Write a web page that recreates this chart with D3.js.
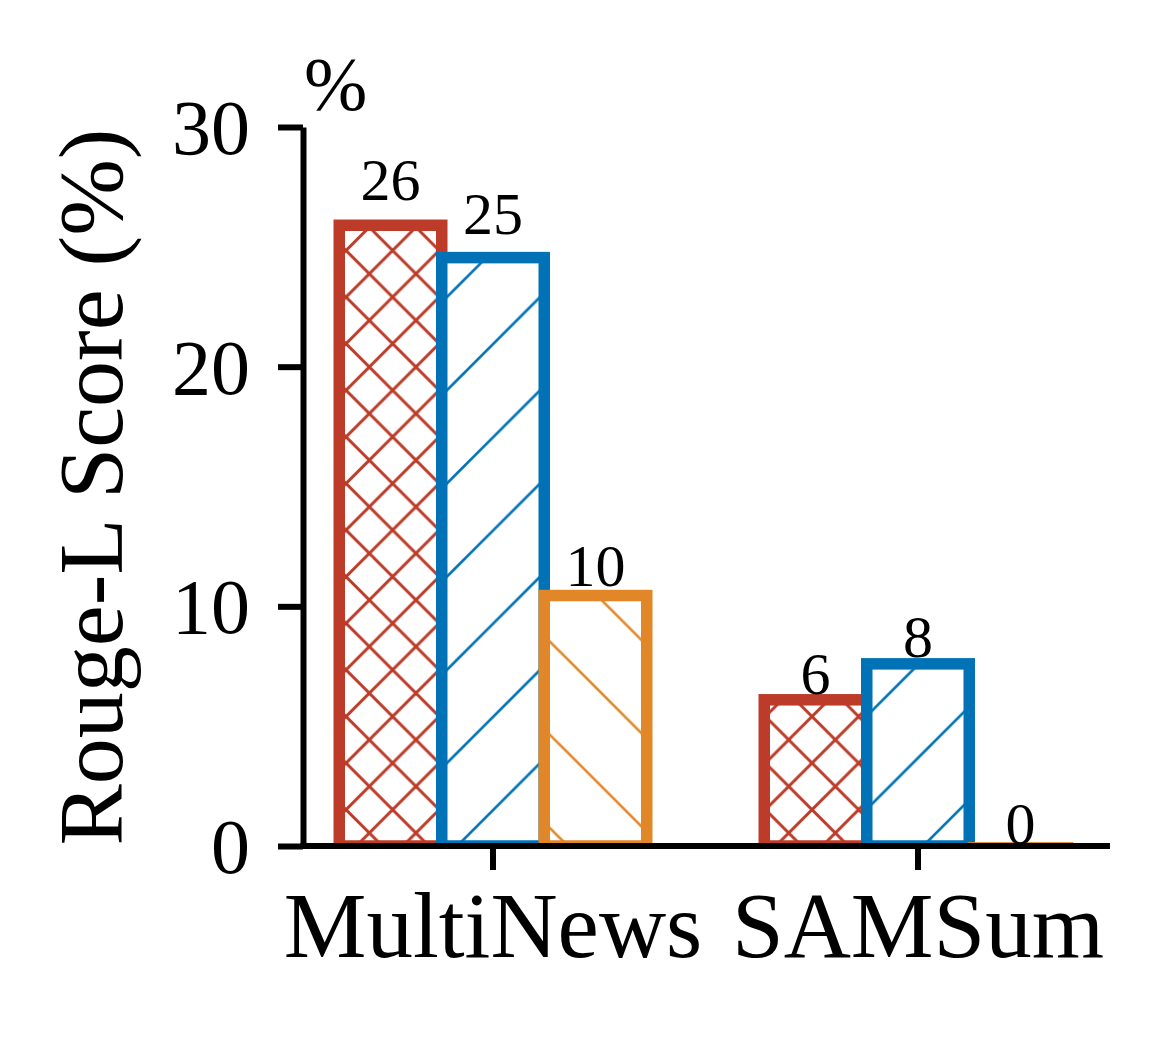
<!DOCTYPE html>
<html>
<head>
<meta charset="utf-8">
<script src="https://cdn.jsdelivr.net/npm/d3@7"></script>
<style>
  html, body { margin: 0; padding: 0; background: #fff; }
  svg { display: block; }
  text { font-family: "Liberation Serif", "Times New Roman", serif; fill: #000; }
</style>
</head>
<body>
<div id="chart"></div>
<script>
// ---- data ----
const groups = ["MultiNews", "SAMSum"];
const series = ["s1", "s2", "s3"];
const redValues = [25.9, 6.1];
const blueValues = [24.55, 7.6];
const orangeValues = [10.45, 0.1];
const valueLabels = [["26", "6"], ["25", "8"], ["10", "0"]];
const yTicks = [0, 10, 20, 30];
const yLabel = "Rouge-L Score (%)";
const unitLabel = "%";

const seriesValues = [redValues, blueValues, orangeValues];
const colors = ["#BC3C29", "#0072B5", "#E18727"];

const W = 1166, H = 1041;
const svg = d3.select("#chart").append("svg").attr("width", W).attr("height", H);

// scales
const y = d3.scaleLinear().domain([0, 30]).range([846, 127]);
const x = d3.scaleBand().domain(groups).range([280.5, 1130.5])
  .paddingInner(0.2765).paddingOuter(0.2765 / 2);
const xs = d3.scaleBand().domain(series).range([0, x.bandwidth()]);

// hatch patterns (userSpace, phase matched)
const defs = svg.append("defs");
defs.append("clipPath").attr("id", "plotClip")
  .append("rect").attr("x", 0).attr("y", 0).attr("width", W).attr("height", y(0));

function hatchPath(P, slashOff, backOff) {
  let d = "";
  if (slashOff !== null) {
    for (let k = -2; k <= 3; k++) {
      const c = slashOff + k * P;
      d += `M${c + P},${-P}L${c - 2 * P},${2 * P}`;
    }
  }
  if (backOff !== null) {
    for (let k = -2; k <= 3; k++) {
      const c = backOff + k * P;
      d += `M${c - P},${-P}L${c + 2 * P},${2 * P}`;
    }
  }
  return d;
}
const hatchDefs = [
  { id: "h0", P: 46.6, s: 37.3, b: 2.3, w: 3 },
  { id: "h1", P: 93.2, s: 91.5, b: null, w: 2.6 },
  { id: "h2", P: 93.2, s: null, b: 1.5, w: 2.6 }
];
hatchDefs.forEach((h, i) => {
  const p = defs.append("pattern").attr("id", h.id)
    .attr("patternUnits", "userSpaceOnUse")
    .attr("x", 0).attr("y", 0).attr("width", h.P).attr("height", h.P);
  p.append("rect").attr("width", h.P).attr("height", h.P).attr("fill", "#fff");
  p.append("path").attr("d", hatchPath(h.P, h.s, h.b))
    .attr("stroke", colors[i]).attr("stroke-width", h.w).attr("fill", "none");
});

// bars
const barData = [];
series.forEach((s, si) => {
  groups.forEach((g, gi) => {
    barData.push({ s, si, g, gi, v: seriesValues[si][gi], label: valueLabels[si][gi] });
  });
});
barData.sort((a, b) => a.gi - b.gi || a.si - b.si);

const bars = svg.append("g").attr("clip-path", "url(#plotClip)");
bars.selectAll("rect").data(barData).join("rect")
  .attr("x", d => x(d.g) + xs(d.s))
  .attr("y", d => y(d.v))
  .attr("width", xs.bandwidth())
  .attr("height", d => y(0) - y(d.v))
  .attr("fill", d => `url(#${hatchDefs[d.si].id})`)
  .attr("stroke", d => colors[d.si])
  .attr("stroke-width", d => (y(0) - y(d.v) < 6 ? 3 : 11.5));

// value labels
svg.append("g").selectAll("text").data(barData).join("text")
  .attr("x", d => x(d.g) + xs(d.s) + xs.bandwidth() / 2)
  .attr("y", d => y(d.v * 1.04))
  .attr("text-anchor", "middle")
  .attr("font-size", 60)
  .text(d => d.label);

// y axis
const yAxis = svg.append("g").attr("transform", `translate(303,0)`)
  .call(d3.axisLeft(y).tickValues(yTicks).tickSize(25).tickPadding(28).tickSizeOuter(0));
yAxis.select(".domain").attr("stroke", "#000").attr("stroke-width", 6);
yAxis.selectAll(".tick line").attr("stroke", "#000").attr("stroke-width", 6);
yAxis.selectAll(".tick text").attr("font-size", 78)
  .attr("font-family", "Liberation Serif, Times New Roman, serif").attr("dy", "0.34em");

// x axis
const xAxis = svg.append("g").attr("transform", `translate(0,${y(0)})`)
  .call(d3.axisBottom(x).tickSize(24).tickPadding(21).tickSizeOuter(0));
xAxis.select(".domain").remove();
xAxis.append("line").attr("x1", 300).attr("x2", 1110).attr("y1", 0).attr("y2", 0)
  .attr("stroke", "#000").attr("stroke-width", 6);
xAxis.selectAll(".tick line").attr("stroke", "#000").attr("stroke-width", 6);
xAxis.selectAll(".tick text").attr("font-size", 93)
  .attr("font-family", "Liberation Serif, Times New Roman, serif").attr("dy", "0.71em");

// y label
svg.append("text")
  .attr("transform", `translate(122,487) rotate(-90)`)
  .attr("text-anchor", "middle")
  .attr("font-size", 92)
  .text(yLabel);

// unit label
svg.append("text")
  .attr("x", 304).attr("y", 110)
  .attr("font-size", 76)
  .text(unitLabel);
</script>
</body>
</html>
